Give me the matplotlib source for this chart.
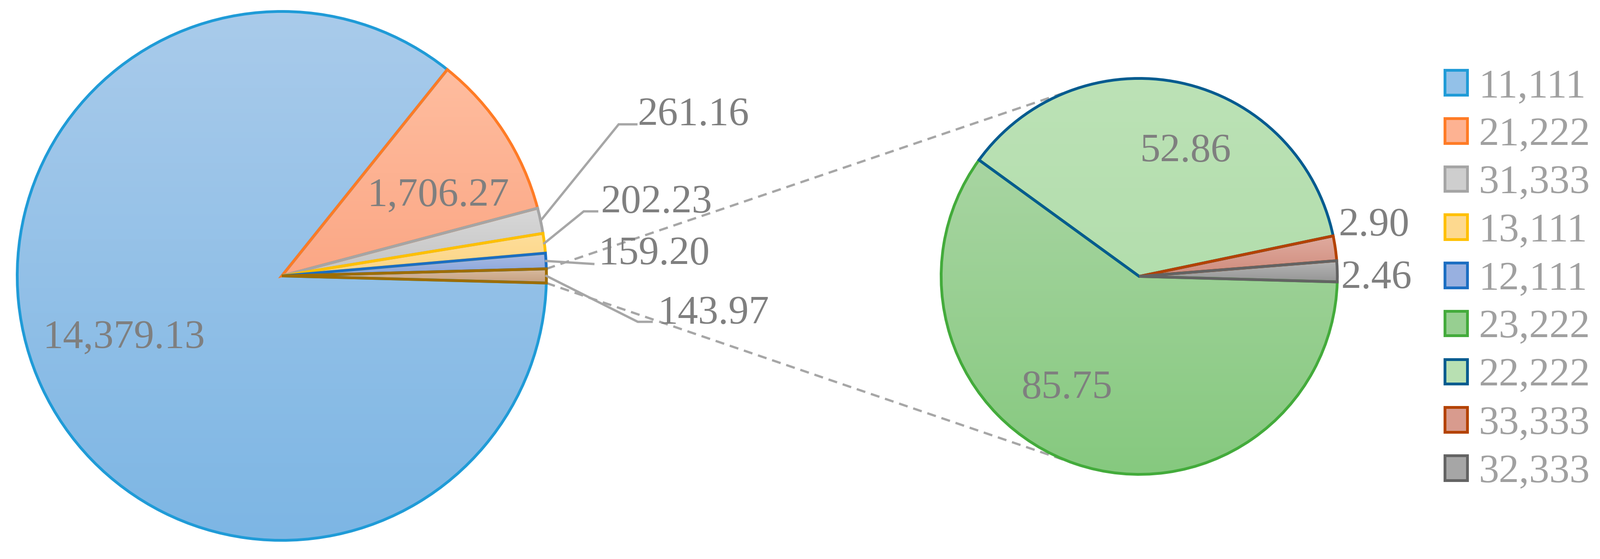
import numpy as np
import matplotlib
matplotlib.use("Agg")
import matplotlib.pyplot as plt
from matplotlib.colors import LinearSegmentedColormap, to_rgb

plt.rcParams["font.family"] = ["Liberation Serif", "DejaVu Serif"]

W, H = 3344, 1169

# main pie: five named slices, the rest goes into the second pie
main_labels = ["11,111", "21,222", "31,333", "13,111", "12,111"]
main_values = [14379.13, 1706.27, 261.16, 202.23, 159.20]
# second pie = split of the "other" slice
sub_labels = ["23,222", "22,222", "33,333", "32,333"]
sub_values = [85.75, 52.86, 2.90, 2.46]

# colours (gradient top, gradient bottom, border)
main_top = ["#a9cbeb", "#ffbd9f", "#d8d8d8", "#fede9a", "#a8bbe4", "#d8bb9f"]
main_bot = ["#7db6e4", "#fba785", "#c4c4c4", "#fcd484", "#88a4db", "#c6a081"]
main_edge = ["#1f9bd7", "#ff7b25", "#a5a5a5", "#ffc000", "#1b6ec2", "#9e6d00"]
sub_top = ["#a8d5a2", "#bce2b6", "#e0ab9f", "#b6b6b6"]
sub_bot = ["#86c97f", "#b3dead", "#cf8b7c", "#959595"]
sub_edge = ["#43ab3b", "#045b8f", "#b44200", "#636363"]

label_color = "#7f7f7f"
legend_color = "#a0a0a0"
line_color = "#a6a6a6"
fs = 61
edge_lw = 4.2


def px(x, y):
    # picture pixel (y down) -> data (y up)
    return x, H - y


def fmt(v):
    return f"{v:,.2f}"


def mid(a, b):
    return [(np.array(to_rgb(x)) + np.array(to_rgb(y))) / 2 for x, y in zip(a, b)]


fig = plt.figure(figsize=(W / 100, H / 100), dpi=100)
ax = fig.add_axes([0, 0, 1, 1])

other = sum(sub_values)
left_vals = main_values + [other]
left_start = -other / sum(left_vals) * 360 / 2

left_center, left_r = px(589, 577), 553
right_center, right_r = px(2381, 578), 414

wl, _ = ax.pie(left_vals, colors=mid(main_top, main_bot), startangle=left_start,
               counterclock=False, radius=left_r, center=left_center,
               wedgeprops=dict(linewidth=edge_lw, joinstyle="miter"))
wr, _ = ax.pie(sub_values, colors=mid(sub_top, sub_bot), startangle=-1.6,
               counterclock=False, radius=right_r, center=right_center,
               wedgeprops=dict(linewidth=edge_lw, joinstyle="miter"))
for w, ec in zip(wl, main_edge):
    w.set_edgecolor(ec)
for w, ec in zip(wr, sub_edge):
    w.set_edgecolor(ec)

# legend (handles copy the flat colours before the gradient goes in)
leg = ax.legend(list(wl[:5]) + list(wr), main_labels + sub_labels,
                loc="upper left", bbox_to_anchor=(3020 / W, 1 - 144 / H),
                frameon=False, prop={"size": fs}, labelcolor=legend_color,
                handlelength=0.56, handleheight=0.56, handletextpad=0.27,
                labelspacing=0.28, borderpad=0, borderaxespad=0)

# vertical gradient inside every slice
grad = np.linspace(0, 1, 256).reshape(-1, 1)
for w, top, bot in zip(list(wl) + list(wr), main_top + sub_top, main_bot + sub_bot):
    x0, y0, x1, y1 = w.get_path().get_extents().extents
    cmap = LinearSegmentedColormap.from_list("g", [bot, top])
    im = ax.imshow(grad, cmap=cmap, extent=(x0, x1, y0, y1), origin="lower",
                   aspect="auto", interpolation="bilinear", zorder=1)
    im.set_clip_path(w)
    w.set_facecolor("none")
    w.set_zorder(2)


def edge_point(w, ang=None):
    if ang is None:
        ang = (w.theta1 + w.theta2) / 2
    a = np.radians(ang)
    return w.center[0] + w.r * np.cos(a), w.center[1] + w.r * np.sin(a)


# connector lines from the "other" slice to the second pie (tangents)
def tangent(p, c, r, sign):
    d = np.hypot(p[0] - c[0], p[1] - c[1])
    base = np.arctan2(p[1] - c[1], p[0] - c[0])
    a = base - sign * np.arccos(r / d)
    return c[0] + r * np.cos(a), c[1] + r * np.sin(a)


ow = wl[-1]
p_top = edge_point(ow, ow.theta2)
p_bot = edge_point(ow, ow.theta1)
for p, s in [(p_top, 1), (p_bot, -1)]:
    t = tangent(p, right_center, right_r, s)
    ax.plot([p[0], t[0]], [p[1], t[1]], color=line_color, lw=3.4,
            linestyle=(0, (4, 2.6)), zorder=0.5)

# value labels inside slices (x centre, baseline)
inside_main = {0: (259, 728), 1: (916, 431)}
inside_sub = {0: (2230, 833), 1: (2478, 338)}
for i, pos in inside_main.items():
    ax.text(*px(*pos), fmt(left_vals[i]), ha="center", va="baseline",
            fontsize=fs, color=label_color, zorder=5)
for i, pos in inside_sub.items():
    ax.text(*px(*pos), fmt(sub_values[i]), ha="center", va="baseline",
            fontsize=fs, color=label_color, zorder=5)

# outside labels with leader lines (bend points, text origin)
leaders = {
    2: ([(1293, 260), (1330, 260)], (1332, 262)),
    3: ([(1220, 442), (1248, 442)], (1255, 445)),
    4: ([(1240, 552)], (1251, 553)),
    5: ([(1333, 673), (1362, 673)], (1374, 677)),
}
for i, (pts, org) in leaders.items():
    start = edge_point(wl[i])
    xs = [start[0]] + [px(*q)[0] for q in pts]
    ys = [start[1]] + [px(*q)[1] for q in pts]
    ax.plot(xs, ys, color=line_color, lw=3.5, zorder=3, solid_joinstyle="miter")
    ax.text(*px(*org), fmt(left_vals[i]), ha="left", va="baseline",
            fontsize=fs, color=label_color, zorder=5)

outside_sub = {2: (2797, 493), 3: (2802, 603)}
for i, org in outside_sub.items():
    ax.text(*px(*org), fmt(sub_values[i]), ha="left", va="baseline",
            fontsize=fs, color=label_color, zorder=5)

ax.set_xlim(0, W)
ax.set_ylim(0, H)
ax.set_aspect("equal")
ax.axis("off")

fig.savefig("out.png", dpi=100)
